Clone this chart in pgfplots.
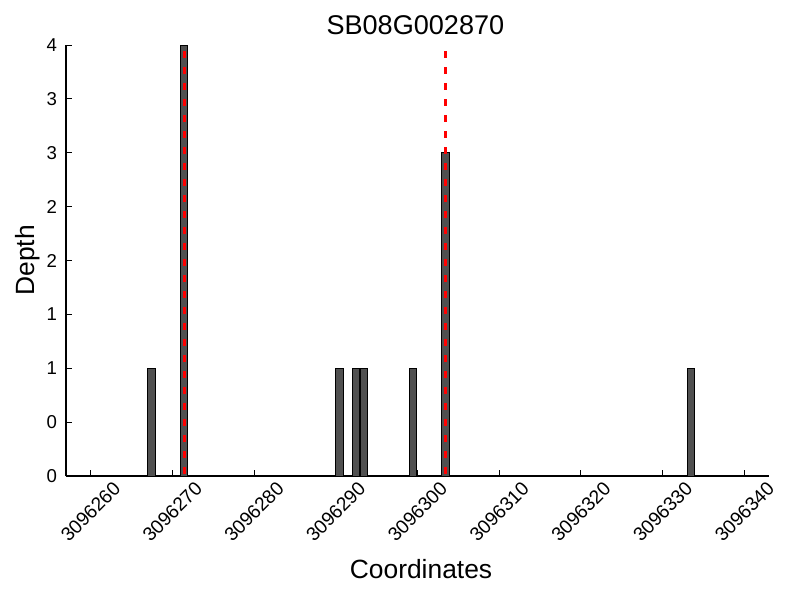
\documentclass[border=0pt]{standalone}
\usepackage{pgfplots}
\pgfplotsset{compat=1.18}
\usepackage{fontspec}
\setmainfont{Liberation Sans}
\definecolor{barfill}{RGB}{80,80,80}
\definecolor{redline}{RGB}{255,0,0}
\begin{document}
\begin{tikzpicture}
\useasboundingbox (-47.52pt,-89.28pt) rectangle (528.48pt,342.72pt);
\begin{axis}[
  at={(0,0)}, anchor=south west,
  scale only axis, width=506.16pt, height=310.32pt,
  xmin=257, xmax=343, ymin=0, ymax=4,
  axis lines*=left,
  axis line style={line width=0.8pt, black},
  tick align=inside,
  major tick length=4.3pt,
  tick style={line width=0.7pt, black},
  xtick={260,270,...,340},
  xticklabels={3096260,3096270,3096280,3096290,3096300,3096310,3096320,3096330,3096340},
  ytick={0,0.5,1,1.5,2,2.5,3,3.5,4},
  yticklabels={0,0,1,1,2,2,3,3,4},
  xticklabel style={rotate=45, anchor=center, inner sep=0pt, xshift=-18.24pt, yshift=-18.24pt, font=\fontsize{13.8}{16}\selectfont},
  yticklabel style={anchor=east, inner sep=0pt, xshift=-6.3pt, font=\fontsize{13.4}{16}\selectfont},
  title={SB08G002870},
  title style={at={(axis description cs:0.497,1.0053)}, anchor=base, inner sep=0pt, font=\fontsize{19.5}{23}\selectfont},
  xlabel={Coordinates},
  xlabel style={at={(axis description cs:0.505,-0.2374)}, anchor=base, inner sep=0pt, font=\fontsize{19}{23}\selectfont},
  ylabel={Depth},
  ylabel style={at={(axis description cs:-0.0445,0.5)}, anchor=base, inner sep=0pt, font=\fontsize{19}{23}\selectfont},
  clip=false,
]
\addplot[ybar, bar width=0.92, fill=barfill, draw=black, line width=0.7pt] coordinates {
  (267.45,1) (271.45,4) (290.45,1) (292.45,1) (293.45,1) (299.45,1) (303.45,3) (333.45,1)
};
\addplot[redline, line width=2pt, dash pattern=on 5pt off 6.5pt] coordinates {(271.45,3.94) (271.45,0)};
\addplot[redline, line width=2pt, dash pattern=on 5pt off 6.5pt] coordinates {(303.45,3.94) (303.45,0)};
\end{axis}
\end{tikzpicture}
\end{document}
